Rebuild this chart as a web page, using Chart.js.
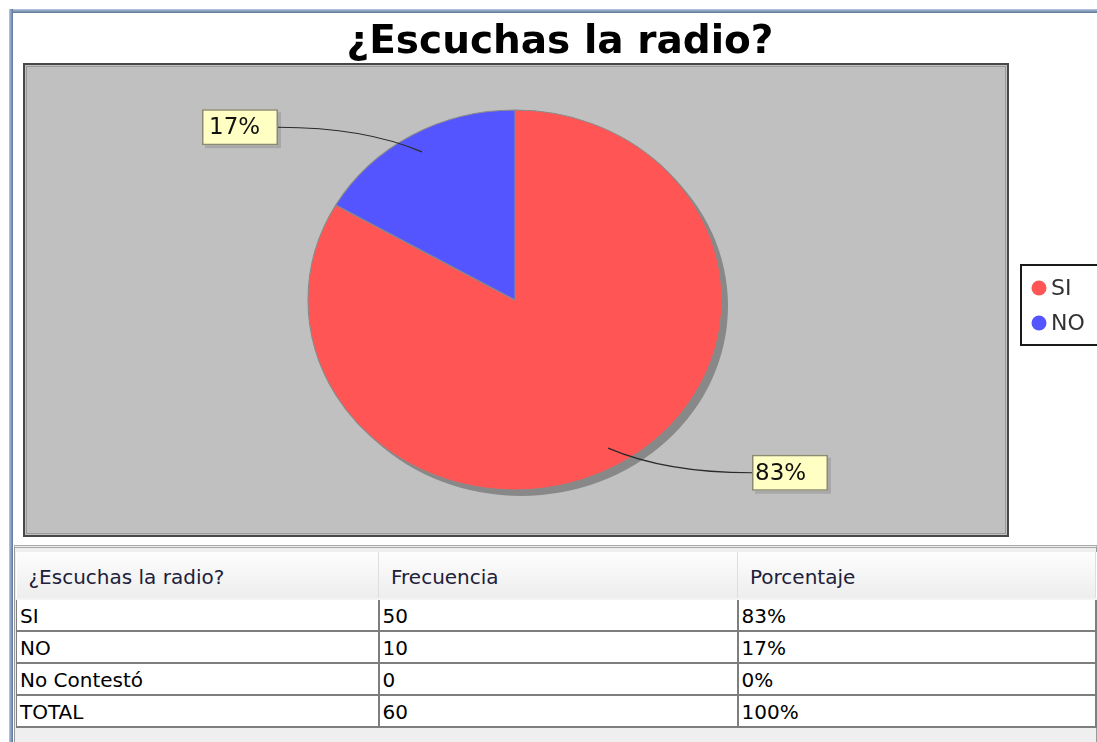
<!DOCTYPE html>
<html>
<head>
<meta charset="utf-8">
<script src="https://cdn.jsdelivr.net/npm/chart.js@4/dist/chart.umd.min.js"></script>
<style>
html,body{margin:0;padding:0;background:#fff;width:1097px;height:742px;overflow:hidden;font-family:"DejaVu Sans",sans-serif;}
#frameTop{position:absolute;left:9px;top:9px;width:1088px;height:4px;background:linear-gradient(#b6c8e0,#5b7498);}
#frameLeft{position:absolute;left:9px;top:9px;width:4px;height:733px;background:linear-gradient(90deg,#b6c8e0,#5b7498);}
#title{position:absolute;left:23px;width:1074px;top:17px;text-align:center;font-weight:bold;font-size:39px;line-height:46px;color:#000;font-family:"DejaVu Sans",sans-serif;}
#cv{position:absolute;left:0;top:0;}
#tblbox{position:absolute;left:14px;top:545px;width:1081px;height:194px;border:1px solid #9a9a9a;border-top:3px double #a8a8a8;background:#efefef;}
#tbl{position:absolute;left:1px;top:4px;border-collapse:collapse;table-layout:fixed;width:1079px;background:#fff;}
#tbl th{box-sizing:border-box;height:47px;padding:3px 0 0 12px;text-align:left;font-weight:normal;font-size:20px;color:#20203a;background:linear-gradient(#fdfdfd,#ededed);border-right:1px solid #dedede;border-bottom:2px solid #f4f4f4;}
#tbl td{box-sizing:border-box;height:32px;padding:1px 0 0 3px;font-size:20px;line-height:24px;color:#000;border:2px solid #7e7e7e;border-left:none;}
#tbl td:first-child{border-left:1px solid #7e7e7e;}
</style>
</head>
<body>
<div id="frameTop"></div>
<div id="frameLeft"></div>
<canvas id="cv" width="1097" height="545" style="width:1097px;height:545px;"></canvas>
<div id="title"></div>
<div id="tblbox"><table id="tbl"><colgroup><col style="width:362px"><col style="width:359px"><col style="width:358px"></colgroup><thead><tr id="hdr"></tr></thead><tbody id="body"></tbody></table></div>
<script>
const titleText = '¿Escuchas la radio?';
const pieLabels = ['SI', 'NO'];
const pieValues = [50, 10];
const pieColors = ['#ff5555', '#5555ff'];
const tableHeaders = ['¿Escuchas la radio?', 'Frecuencia', 'Porcentaje'];
const tableCategories = ['SI', 'NO', 'No Contestó', 'TOTAL'];
const tableFreq = [50, 10, 0, 60];
const tablePct = ['83%', '17%', '0%', '100%'];

document.getElementById('title').textContent = titleText;
const hdr = document.getElementById('hdr');
tableHeaders.forEach(h => { const th = document.createElement('th'); th.textContent = h; hdr.appendChild(th); });
const body = document.getElementById('body');
tableCategories.forEach((c, i) => {
  const tr = document.createElement('tr');
  [c, String(tableFreq[i]), tablePct[i]].forEach(v => { const td = document.createElement('td'); td.textContent = v; tr.appendChild(td); });
  body.appendChild(tr);
});

const PLOT = {x: 24, y: 64, w: 984, h: 472};
const SX = 207 / 190;

const piePlugin = {
  id: 'jfreePie',
  beforeDraw(chart) {
    const c = chart.ctx;
    c.save();
    c.fillStyle = '#c0c0c0';
    c.fillRect(PLOT.x, PLOT.y, PLOT.w, PLOT.h);
    c.strokeStyle = '#9a9a9a'; c.lineWidth = 1;
    c.strokeRect(PLOT.x + 2.5, PLOT.y + 2.5, PLOT.w - 5, PLOT.h - 5);
    c.strokeStyle = '#484848'; c.lineWidth = 2;
    c.strokeRect(PLOT.x, PLOT.y, PLOT.w, PLOT.h);
    c.restore();
  },
  beforeDatasetsDraw(chart) {
    const c = chart.ctx;
    const arc = chart.getDatasetMeta(0).data[0];
    const cx = arc.x, cy = arc.y, R = arc.outerRadius;
    c.save();
    c.fillStyle = '#888888';
    c.beginPath();
    c.ellipse(cx + 6, cy + 6, R * SX, R, 0, 0, Math.PI * 2);
    c.fill();
    c.restore();
    c.save();
    c.translate(cx, cy); c.scale(SX, 1); c.translate(-cx, -cy);
  },
  afterDatasetsDraw(chart) {
    const c = chart.ctx;
    c.restore();
    const meta = chart.getDatasetMeta(0);
    const vals = chart.data.datasets[0].data;
    const total = vals.reduce((a, b) => a + b, 0);
    meta.data.forEach((arc, i) => {
      const v = vals[i];
      if (!v) return;
      const mid = (arc.startAngle + arc.endAngle) / 2;
      const R = arc.outerRadius, cx = arc.x, cy = arc.y;
      const ax = cx + Math.cos(mid) * R * SX * 0.9;
      const ay = cy + Math.sin(mid) * R * 0.9;
      const ly = cy + Math.sin(mid) * R * 1.05;
      const left = Math.cos(mid) < 0;
      const txt = Math.round(v / total * 100) + '%';
      const bw = 76, bh = 36;
      const edge = left ? cx - 237 : cx + 237;
      const bx = left ? edge - bw : edge;
      const by = ly - bh / 2;
      c.save();
      c.strokeStyle = '#2a2a2a'; c.lineWidth = 1.2;
      c.beginPath();
      c.moveTo(edge, ly);
      c.quadraticCurveTo(edge + (ax - edge) * 0.6, ly, ax, ay);
      c.stroke();
      c.fillStyle = 'rgba(0,0,0,0.12)';
      c.fillRect(bx + 3, by + 3, bw, bh);
      c.fillStyle = '#ffffc4';
      c.fillRect(bx, by, bw, bh);
      c.strokeStyle = '#8a8a76'; c.lineWidth = 1.5;
      c.strokeRect(bx + 0.75, by + 0.75, bw - 1.5, bh - 1.5);
      c.fillStyle = '#111';
      c.font = '23px "DejaVu Sans"';
      c.textBaseline = 'middle'; c.textAlign = 'left';
      c.fillText(txt, bx + (left ? 7 : 3), ly + 1);
      c.restore();
    });
  },
  afterDraw(chart) {
    const c = chart.ctx;
    const labels = chart.data.labels;
    const cols = chart.data.datasets[0].backgroundColor;
    c.save();
    c.fillStyle = '#fff';
    c.fillRect(1021, 265, 90, 80);
    c.strokeStyle = '#1a1a1a'; c.lineWidth = 2;
    c.strokeRect(1021, 265, 90, 80);
    c.font = '22px "DejaVu Sans"';
    c.textBaseline = 'middle'; c.textAlign = 'left';
    labels.forEach((l, i) => {
      const y = 288 + i * 35;
      c.fillStyle = cols[i];
      c.beginPath(); c.arc(1039, y, 7.5, 0, Math.PI * 2); c.fill();
      c.fillStyle = '#333';
      c.fillText(l, 1051, y + 1);
    });
    c.restore();
  }
};

new Chart(document.getElementById('cv'), {
  type: 'pie',
  data: {
    labels: pieLabels,
    datasets: [{
      data: pieValues,
      backgroundColor: pieColors,
      borderColor: '#8a8a8a',
      borderWidth: 1
    }]
  },
  options: {
    responsive: false,
    animation: false,
    devicePixelRatio: 1,
    events: [],
    radius: 190,
    layout: {padding: {left: 0, right: 67, top: 60, bottom: 5}},
    plugins: {legend: {display: false}, tooltip: {enabled: false}, title: {display: false}}
  },
  plugins: [piePlugin]
});
</script>
</body>
</html>
